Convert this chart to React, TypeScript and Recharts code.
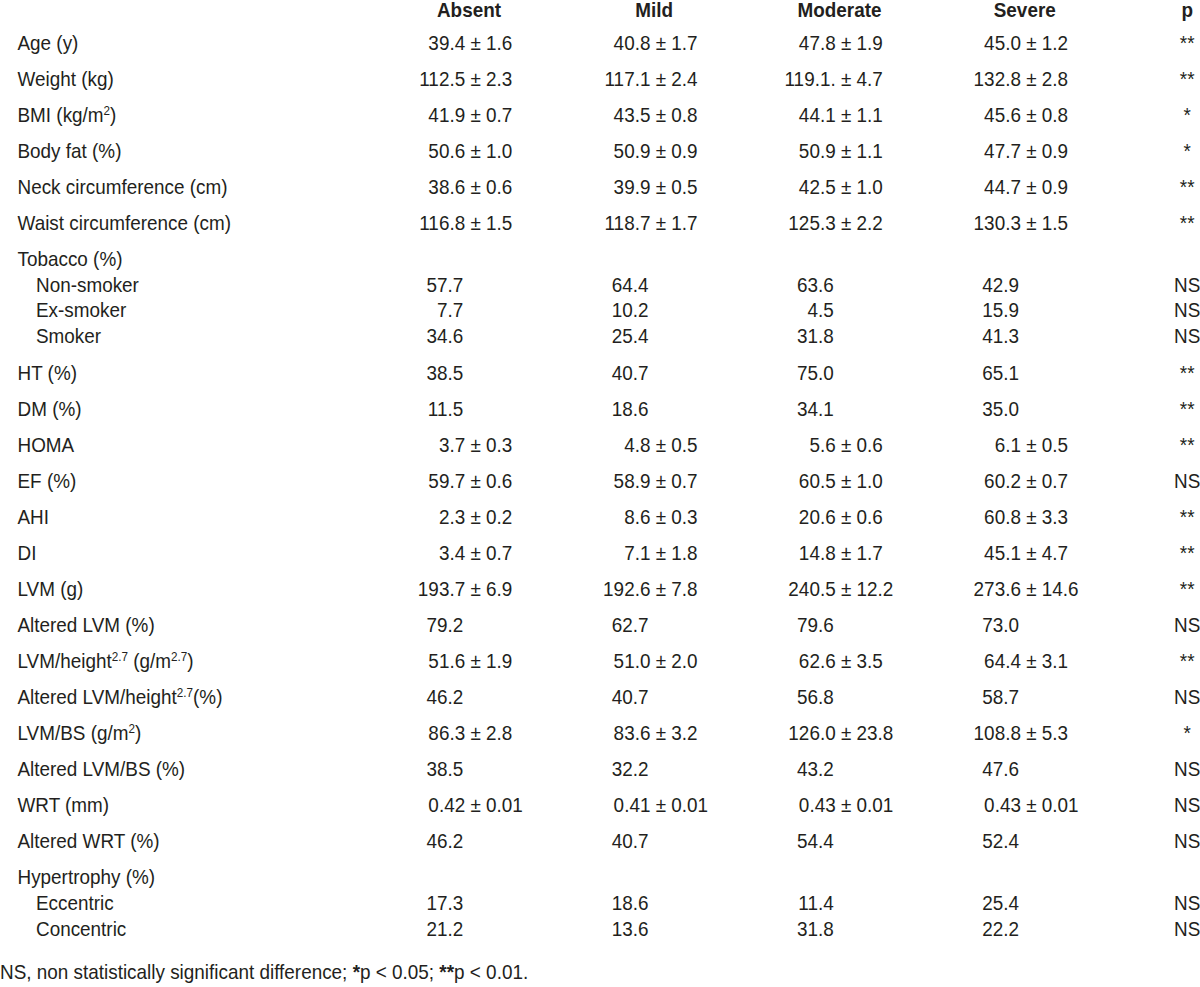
import React from 'react';
import { ScatterChart, Scatter, XAxis, YAxis } from 'recharts';

// table content
const COLUMNS = ['Absent', 'Mild', 'Moderate', 'Severe', 'p'];

const ROW_LABELS = [
  'Age (y)', 'Weight (kg)', 'BMI (kg/m{2})', 'Body fat (%)', 'Neck circumference (cm)',
  'Waist circumference (cm)', 'Tobacco (%)', 'Non-smoker', 'Ex-smoker', 'Smoker',
  'HT (%)', 'DM (%)', 'HOMA', 'EF (%)', 'AHI', 'DI', 'LVM (g)', 'Altered LVM (%)',
  'LVM/height{2.7} (g/m{2.7})', 'Altered LVM/height{2.7}(%)', 'LVM/BS (g/m{2})',
  'Altered LVM/BS (%)', 'WRT (mm)', 'Altered WRT (%)', 'Hypertrophy (%)', 'Eccentric', 'Concentric',
];

const SUB_ROWS = ['Non-smoker', 'Ex-smoker', 'Smoker', 'Eccentric', 'Concentric'];

const ABSENT = [
  '39.4 ± 1.6', '112.5 ± 2.3', '41.9 ± 0.7', '50.6 ± 1.0', '38.6 ± 0.6', '116.8 ± 1.5',
  '', '57.7', '7.7', '34.6', '38.5', '11.5', '3.7 ± 0.3', '59.7 ± 0.6', '2.3 ± 0.2',
  '3.4 ± 0.7', '193.7 ± 6.9', '79.2', '51.6 ± 1.9', '46.2', '86.3 ± 2.8', '38.5',
  '0.42 ± 0.01', '46.2', '', '17.3', '21.2',
];
const MILD = [
  '40.8 ± 1.7', '117.1 ± 2.4', '43.5 ± 0.8', '50.9 ± 0.9', '39.9 ± 0.5', '118.7 ± 1.7',
  '', '64.4', '10.2', '25.4', '40.7', '18.6', '4.8 ± 0.5', '58.9 ± 0.7', '8.6 ± 0.3',
  '7.1 ± 1.8', '192.6 ± 7.8', '62.7', '51.0 ± 2.0', '40.7', '83.6 ± 3.2', '32.2',
  '0.41 ± 0.01', '40.7', '', '18.6', '13.6',
];
const MODERATE = [
  '47.8 ± 1.9', '119.1. ± 4.7', '44.1 ± 1.1', '50.9 ± 1.1', '42.5 ± 1.0', '125.3 ± 2.2',
  '', '63.6', '4.5', '31.8', '75.0', '34.1', '5.6 ± 0.6', '60.5 ± 1.0', '20.6 ± 0.6',
  '14.8 ± 1.7', '240.5 ± 12.2', '79.6', '62.6 ± 3.5', '56.8', '126.0 ± 23.8', '43.2',
  '0.43 ± 0.01', '54.4', '', '11.4', '31.8',
];
const SEVERE = [
  '45.0 ± 1.2', '132.8 ± 2.8', '45.6 ± 0.8', '47.7 ± 0.9', '44.7 ± 0.9', '130.3 ± 1.5',
  '', '42.9', '15.9', '41.3', '65.1', '35.0', '6.1 ± 0.5', '60.2 ± 0.7', '60.8 ± 3.3',
  '45.1 ± 4.7', '273.6 ± 14.6', '73.0', '64.4 ± 3.1', '58.7', '108.8 ± 5.3', '47.6',
  '0.43 ± 0.01', '52.4', '', '25.4', '22.2',
];
const P_VALUES = [
  '**', '**', '*', '*', '**', '**', '', 'NS', 'NS', 'NS', '**', '**', '**', 'NS', '**',
  '**', '**', 'NS', '**', 'NS', '*', 'NS', 'NS', 'NS', '', 'NS', 'NS',
];

// layout
const W = 1200;
const H = 987;
const FONT = "'Liberation Sans', Arial, Helvetica, sans-serif";
const INK = '#231f20';
const FS = 21;
const SX = 0.9; // the source face is a little narrower than Arial
const COL_SLOTS = [0, 1, 2, 3, 3.877];
const COL_STEP = 185.25;
const FIRST_COL_X = 469;
const PLOT_LEFT = 360; // leave room left of the first column so nothing is clipped
const HEADER_H = 30;
const ROW_PX = 36;
const FIRST_ROW_Y = 42.5;
const X_MIN = -(FIRST_COL_X - PLOT_LEFT) / COL_STEP;
const X_MAX = (W - FIRST_COL_X) / COL_STEP;
const Y_MIN = -(FIRST_ROW_Y - HEADER_H) / ROW_PX;
const Y_MAX = Y_MIN + (H - HEADER_H) / ROW_PX;

// row positions in row units: sub rows sit closer together
const ROW_POS: number[] = [];
ROW_LABELS.forEach((lab, i) => {
  if (i === 0) { ROW_POS.push(0); return; }
  const sub = SUB_ROWS.includes(lab);
  const prevSub = SUB_ROWS.includes(ROW_LABELS[i - 1]);
  ROW_POS.push(ROW_POS[i - 1] + (sub ? 0.715 : prevSub ? 1.03 : 1));
});

const SERIES = [ABSENT, MILD, MODERATE, SEVERE, P_VALUES];
const cells = SERIES.flatMap((vals, c) =>
  vals.map((text, r) => ({ col: COL_SLOTS[c], colIdx: c, row: ROW_POS[r], text })).filter(d => d.text)
);

function T({ x, y, anchor = 'start', bold = false, children }: any) {
  return (
    <text
      transform={`translate(${x} ${y}) scale(${SX} 1)`}
      textAnchor={anchor}
      fontFamily={FONT}
      fontSize={FS}
      fontWeight={bold ? 'bold' : 'normal'}
      fill={INK}
    >
      {children}
    </text>
  );
}

function labelSpans(label: string) {
  const parts = label.split(/(\{[^}]*\})/).filter(Boolean);
  let raised = false;
  return parts.map((p, i) => {
    if (p.startsWith('{')) {
      raised = true;
      return <tspan key={i} fontSize={13} dy={-7}>{p.slice(1, -1)}</tspan>;
    }
    const dy = raised ? 7 : 0;
    raised = false;
    return <tspan key={i} dy={dy}>{p}</tspan>;
  });
}

const HeaderTick = (props: any) => {
  const { x, index } = props;
  return <T x={x} y={17} anchor="middle" bold>{COLUMNS[index]}</T>;
};

const RowTick = (props: any) => {
  const { y, index } = props;
  const lab = ROW_LABELS[index];
  const sub = SUB_ROWS.includes(lab);
  return <T x={sub ? 36 : 17.5} y={y + 7.5}>{labelSpans(lab)}</T>;
};

const Cell = (props: any) => {
  const { cx, cy, payload } = props;
  const y = cy + 7.5;
  const text: string = payload.text;
  if (payload.colIdx === 4) return <T x={cx} y={y} anchor="middle">{text}</T>;
  if (text.includes('±')) {
    const [mean, sd] = text.split(' ± ');
    const pm = cx + 1.4;
    return (
      <g>
        <T x={pm - 5.25} y={y} anchor="end">{mean}</T>
        <T x={pm} y={y}>{'± ' + sd}</T>
      </g>
    );
  }
  return <T x={cx - 5.8} y={y} anchor="end">{text}</T>;
};

export default function App() {
  return (
    <div style={{ position: 'absolute', left: 0, top: 0, width: W, height: H, background: '#fff' }}>
      <ScatterChart width={W} height={H} margin={{ top: 0, right: 0, bottom: 0, left: 0 }}>
        <XAxis
          type="number"
          dataKey="col"
          orientation="top"
          height={HEADER_H}
          domain={[X_MIN, X_MAX]}
          ticks={COL_SLOTS}
          interval={0}
          axisLine={false}
          tickLine={false}
          tick={<HeaderTick />}
        />
        <YAxis
          type="number"
          dataKey="row"
          reversed
          width={PLOT_LEFT}
          domain={[Y_MIN, Y_MAX]}
          ticks={ROW_POS}
          interval={0}
          axisLine={false}
          tickLine={false}
          tick={<RowTick />}
        />
        <Scatter data={cells} shape={<Cell />} isAnimationActive={false} />
      </ScatterChart>
      <div
        style={{
          position: 'absolute', left: 0, top: 960.7, whiteSpace: 'nowrap',
          fontFamily: FONT, fontSize: FS, lineHeight: `${FS}px`, color: INK,
          transform: `scaleX(${SX})`, transformOrigin: '0 0',
        }}
      >
        NS, non statistically significant difference; <b>*</b>p &lt; 0.05; <b>**</b>p &lt; 0.01.
      </div>
    </div>
  );
}
